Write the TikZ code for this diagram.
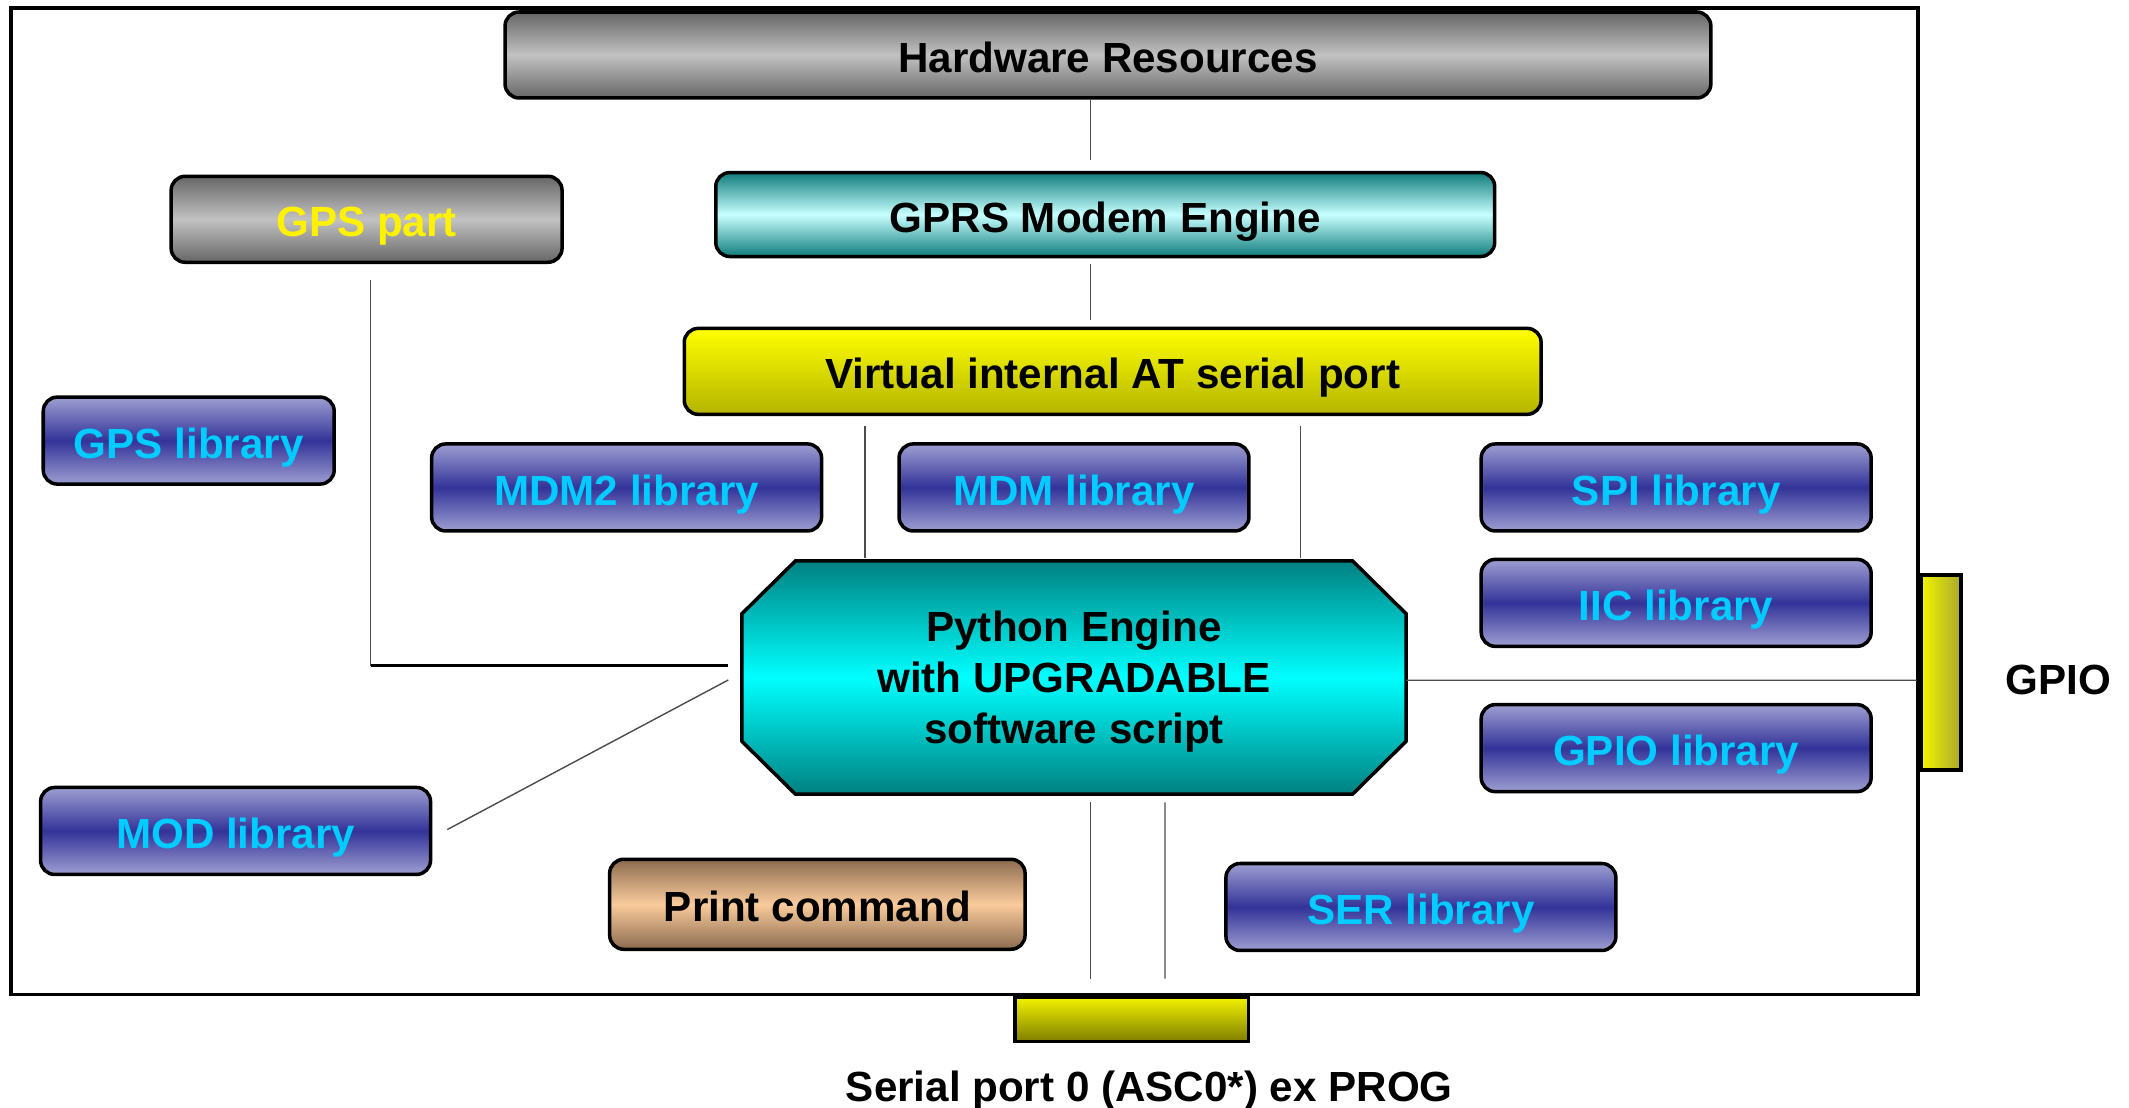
\documentclass[tikz,border=0pt]{standalone}
\usepackage{fontspec}
\setmainfont{Liberation Sans}
\usepackage{tikz}
\usetikzlibrary{calc,backgrounds}
\definecolor{HwDark}{HTML}{666666}
\definecolor{HwLight}{HTML}{C2C2C2}
\definecolor{ModemDark}{HTML}{0E7C7B}
\definecolor{ModemLight}{HTML}{C8FFFF}
\definecolor{AtTop}{HTML}{FFFF00}
\definecolor{AtBottom}{HTML}{B4B400}
\definecolor{LibDark}{HTML}{333399}
\definecolor{LibLight}{HTML}{9E9ED2}
\definecolor{LibText}{HTML}{00CCFF}
\definecolor{PyDark}{HTML}{008080}
\definecolor{PyLight}{HTML}{00FFFF}
\definecolor{PrintDark}{HTML}{8B6B4E}
\definecolor{PrintLight}{HTML}{FACB9C}
\definecolor{PortTop}{HTML}{F4F400}
\definecolor{PortBottom}{HTML}{7E7E00}
\definecolor{PortRight}{HTML}{A8A830}

\begin{document}
\begin{tikzpicture}[
            x=0.013578cm, y=-0.013578cm,
            font=\fontsize{12}{14.5}\selectfont\bfseries,
            box/.style={draw=black, line width=1pt, rounded corners=4pt, inner sep=0pt, align=center, minimum height=0.86cm, text height=10pt, text depth=0pt},
            hwbox/.style={box, top color=HwDark, bottom color=HwDark, middle color=HwLight},
            modem/.style={box, top color=ModemDark, bottom color=ModemDark, middle color=ModemLight},
            atport/.style={box, top color=AtTop, bottom color=AtBottom},
            lib/.style={box, top color=LibLight, bottom color=LibLight, middle color=LibDark, text=LibText, minimum width=3.9cm, minimum height=0.87cm},
            printbox/.style={box, top color=PrintDark, bottom color=PrintDark, middle color=PrintLight, minimum height=0.9cm},
            engine/.style={draw=black, line width=1pt, top color=PyDark, bottom color=PyDark, middle color=PyLight},
            port/.style={draw=black, line width=1pt, inner sep=0pt},
            link/.style={draw=gray!60!black, line width=0.4pt},
            bus/.style={draw=black, line width=1pt},
        ]
        \useasboundingbox (0,0) rectangle (1568,816);
        \draw[line width=1pt] (8,6) rectangle (1412.5,732.5);

        \node[hwbox, minimum width=12.06cm] (hw) at (816,40.5) {Hardware Resources};
        \node[modem, minimum width=7.79cm, minimum height=0.84cm] (gprs) at (814,158) {GPRS Modem Engine};
        \node[atport, minimum width=8.57cm] (virt) at (819.5,273.5) {Virtual internal AT serial port};
        \node[hwbox, minimum width=3.91cm, text=yellow] (gps) at (270,161.5) {GPS part};

        \node[lib, minimum width=2.91cm] (gpslib) at (139,324.5) {GPS library};
        \node[lib] (mdm2) at (461.5,359) {MDM2 library};
        \node[lib, minimum width=3.5cm] (mdm) at (791,359) {MDM library};
        \node[lib] (spi) at (1234.5,359) {SPI library};
        \node[lib] (iic) at (1234.5,444) {IIC library};
        \node[lib] (gpiolib) at (1234.5,551) {GPIO library};
        \node[lib] (mod) at (173.5,612) {MOD library};
        \node[lib] (ser) at (1046.5,668) {SER library};
        \node[printbox, minimum width=4.155cm] (print) at (602,666) {Print command};

        \node[inner sep=0pt, align=center, text depth=0pt, minimum width=6.63cm, minimum height=2.32cm] (py) at (791,499) {Python Engine\\with UPGRADABLE\\software script};
        \begin{scope}[on background layer]
            \filldraw[engine] ($(py.north west)+(39.5,0)$) -- ($(py.north east)+(-39.5,0)$) -- ($(py.north east)+(0,39)$) -- ($(py.south east)+(0,-39)$) -- ($(py.south east)+(-39.5,0)$) -- ($(py.south west)+(39.5,0)$) -- ($(py.south west)+(0,-39)$) -- ($(py.north west)+(0,39)$) -- cycle;
        \end{scope}

        \node[port, minimum width=2.335cm, minimum height=0.448cm, top color=PortTop, bottom color=PortBottom] (asc) at (833.7,750.6) {};
        \node[port, minimum width=0.398cm, minimum height=1.948cm, left color=PortTop, right color=PortRight] (gpio) at (1429.7,495.3) {};
        \node (gpiolbl) at (1516,501) {GPIO};
        \node (asclbl) at (846.5,803) {Serial port 0 (ASC0*) ex PROG};

        \draw[link] ($(hw.south)+(-13,0)$) -- ($(gprs.north)+(-11,-8)$);
        \draw[link] ($(gprs.south)+(-11,4)$) -- ($(virt.north)+(-16.5,-5)$);
        \draw[link] ($(virt.south)+(-182.5,7)$) -- ($(py.north)+(-154,-2)$);
        \draw[link] ($(virt.south)+(138.5,7)$) -- ($(py.north)+(167,-2)$);

        \coordinate (gpsbend) at ($(gps.south |- py.west)+(3,-8.7)$);
        \draw[link] ($(gps.south)+(3,12)$) -- (gpsbend);
        \draw[bus] (gpsbend) -- ($(py.west)+(-10,-8.7)$);
        \draw[link] ($(mod.east)+(11,-1)$) -- ($(py.west)+(-10,1.8)$);
        \draw[link] ($(py.east)+(0,2)$) -- ($(gpio.west)+(-2,5.7)$);

        \draw[link] ($(py.south)+(12,6)$) -- ($(asc.north)+(-30.7,-12)$);
        \draw[link] ($(py.south)+(67,6)$) -- ($(asc.north)+(24.3,-12)$);
    \end{tikzpicture}
\end{document}
